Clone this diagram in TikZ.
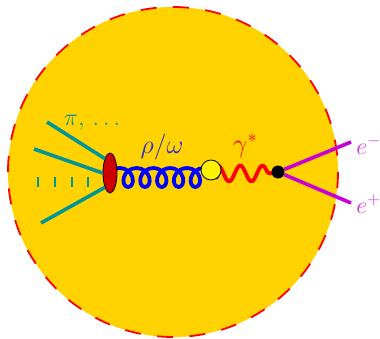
\documentclass[tikz,border=0pt]{standalone}
\usepackage{fix-cm}
\usepackage{amsmath}
\usetikzlibrary{decorations.pathmorphing,shapes.geometric}
\definecolor{bggold}{RGB}{255,210,0}
\definecolor{hadron}{RGB}{0,150,150}
\definecolor{lepton}{RGB}{200,0,215}
\definecolor{blob}{RGB}{205,0,0}
\definecolor{rhoblue}{RGB}{40,40,225}
\tikzset{
	hadline/.style={line width=3.6pt, hadron},
	lepline/.style={line width=3.6pt, lepton},
	lbl/.style={font=\fontsize{26}{30}\selectfont, inner sep=0pt},
	smlbl/.style={font=\fontsize{24}{28}\selectfont, inner sep=0pt}
}
\begin{document}
\begin{tikzpicture}[x=1pt, y=-1pt, line join=round, line cap=butt, >=stealth]
	\useasboundingbox (0,0) rectangle (380,339);
	\fill[bggold] (173,172) circle (165);
	\draw[red, line width=1.8pt, dash pattern=on 16pt off 16.4pt] (173,172) circle (165);
	% outgoing hadrons
	\coordinate (h1) at (47,122);
	\coordinate (h2) at (34,149);
	\coordinate (h3) at (41,223);
	\coordinate (e1) at (351,142);
	\coordinate (e2) at (351,203);
	\coordinate (vmc) at (107,172);
	\coordinate (convc) at (211,172);
	\coordinate (coilend) at (219,172);
	\coordinate (annc) at (278,172);
	% propagators
	\draw[blue, line width=3.8pt, decorate, decoration={coil, aspect=0.9, amplitude=9.5pt, segment length=16.8pt, raise=-5.5pt}] (vmc)--(coilend);
	\draw[red, line width=3.8pt, decorate, decoration={snake, amplitude=8pt, segment length=22.3pt, raise=-1.5pt}] (convc)--(annc);
	\node[ellipse, draw=black, fill=blob, line width=0.8pt, minimum width=14pt, minimum height=40pt, inner sep=0pt] (vm) at (110,173) {};
	\node[circle, draw=black, fill=yellow, line width=0.8pt, minimum size=20pt, inner sep=0pt] (conv) at (211,170) {};
	\node[circle, fill=black, minimum size=13pt, inner sep=0pt] (ann) at (annc) {};
	\draw[hadline] (h1)--(vm.north west);
	\draw[hadline] (h2)--(vm.west);
	\draw[hadline] (h3)--(vm.south west);
	\foreach \x in {38,55,72,88}
		\draw[hadron, line width=2pt] (\x,177)--(\x,187);
	\draw[lepline] (ann)--(e1);
	\draw[lepline] (ann)--(e2);
	% labels
	\node[smlbl, text=hadron] (pilab) at (92,123) {$\pi,\,\ldots$};
	\node[lbl, text=rhoblue] (rholab) at (162,147) {$\rho/\omega$};
	\node[lbl, text=red] (gamlab) at (245,146) {$\gamma^*$};
	\node[smlbl, text=lepton!80!white] (emlab) at (368.5,145) {$e^-$};
	\node[smlbl, text=lepton!80!white] (eplab) at (368.5,204) {$e^+$};
\end{tikzpicture}
\end{document}
